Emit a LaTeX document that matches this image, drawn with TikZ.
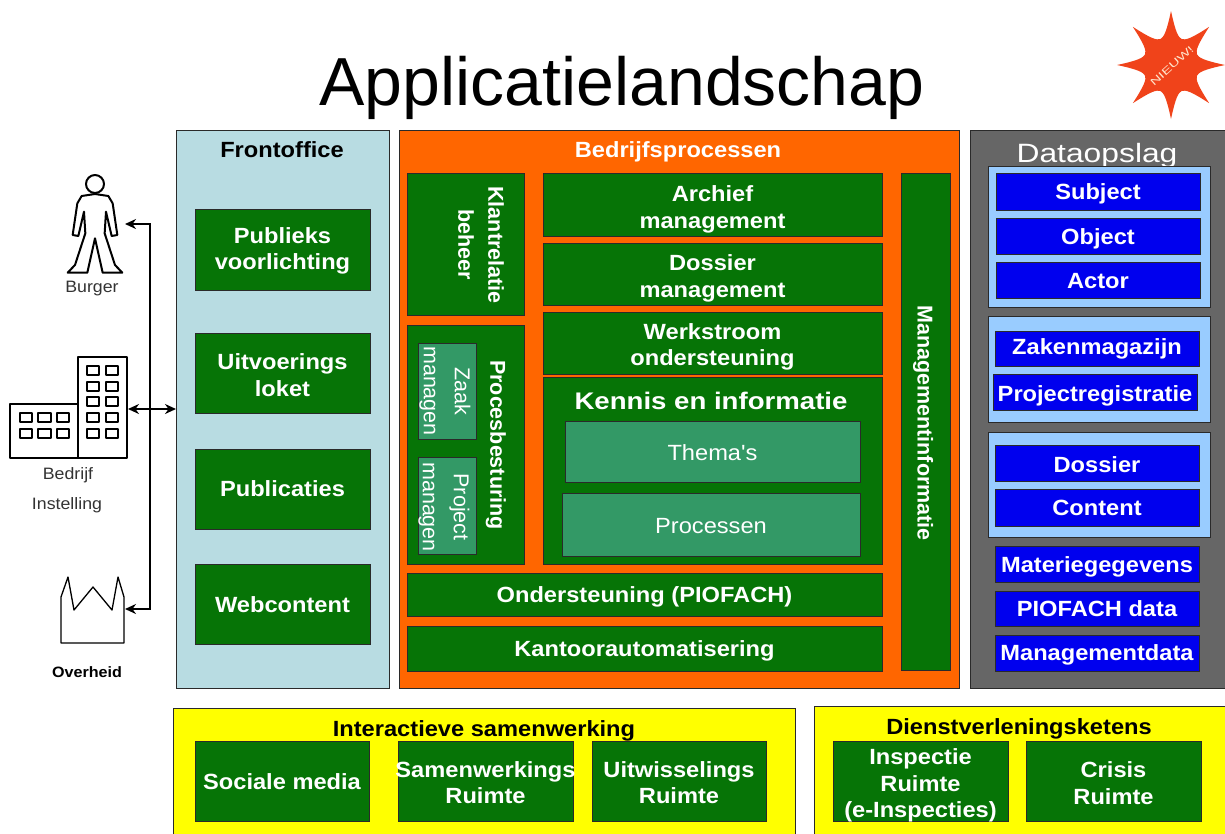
\documentclass[tikz,border=0pt]{standalone}
\usepackage{fontspec}
\setmainfont{Liberation Sans}
\usetikzlibrary{arrows.meta}
\newfontfamily\stretchedfont[FakeStretch=1.075]{Liberation Sans}
\newcommand{\lblb}{\stretchedfont\bfseries\fontsize{22}{26.5}\selectfont}
\newcommand{\lblr}{\stretchedfont\fontsize{22}{26.5}\selectfont}
\newcommand{\vertb}{\bfseries\fontsize{21.5}{30}\selectfont}
\newcommand{\vertr}{\fontsize{21.5}{31}\selectfont}
\definecolor{dgreen}{HTML}{067406}
\definecolor{lgreen}{HTML}{339966}
\definecolor{front}{HTML}{B8DCE2}
\definecolor{orangeb}{HTML}{FF6600}
\definecolor{greyb}{HTML}{666666}
\definecolor{lblue}{HTML}{99CCFF}
\definecolor{dblue}{HTML}{0000EE}
\definecolor{edge}{HTML}{2A2A2A}
\definecolor{starc}{HTML}{F0431A}
\definecolor{yellowb}{HTML}{FFFF00}
\tikzset{
  base/.style={draw=edge,line width=1pt,inner sep=0pt,outer sep=0pt,align=center},
  pane/.style={base},
  gbox/.style={base,fill=dgreen,text=white,font=\lblb},
  tbox/.style={base,fill=lgreen,text=white,font=\lblr},
  bbox/.style={base,fill=dblue,text=white,font=\lblb},
  lbox/.style={base,fill=lblue},
  ybox/.style={base,fill=yellowb,text=black,font=\lblb},
  vtext/.style={text=white,rotate=-90,align=center,inner sep=0pt},
  head/.style={font=\lblb,inner sep=0pt},
  side/.style={text=black!80,inner sep=0pt,font=\stretchedfont\fontsize{16.5}{19}\selectfont},
  icon/.style={draw=black,line width=2pt,line join=round},
  conn/.style={draw=black,line width=2.2pt,{Stealth[length=11pt,width=10pt]}-{Stealth[length=11pt,width=10pt]}}
}
% [text shift]{name}{x1}{y1}{x2}{y2}{style}{text}
\newcommand{\bx}[8][1.5]{%
  \node[#7,minimum width={(#5-#3)*1pt},minimum height={(#6-#4)*1pt}] (#2) at ({(#3+#5)/2},{(#4+#6)/2}) {};
  \node[#7,draw=none,fill=none] (#2-t) at ({(#3+#5)/2},{(#4+#6)/2+#1}) {#8};}
\begin{document}
\begin{tikzpicture}[x=1pt,y=-1pt]
\useasboundingbox (0,0) rectangle (1225,833);
% title
\node[anchor=base,inner sep=0pt,font=\fontsize{68}{80}\selectfont] (title) at (622,105) {Applicatielandschap};
% star
\fill[starc,shift={(1171,65)}] (0:54) \foreach \a in {0,45,...,315} { .. controls (\a+8:33) and (\a+14:29) .. (\a+22.5:28) .. controls (\a+31:29) and (\a+37:33) .. (\a+45:54) } -- cycle;
\node[rotate=42,text=white!80!orange,inner sep=0pt,font=\fontsize{10}{12}\selectfont] (nieuw) at (1172,66) {\scalebox{1.5}[1]{NIEUW!}};
% frontoffice
\bx{fo}{176}{130}{389}{688}{pane,fill=front}{}
\node[head] (fotitle) at (282,150) {Frontoffice};
\bx{f1}{195}{209}{370}{290}{gbox}{Publieks\\voorlichting}
\bx[2]{f2}{195}{333}{370}{413}{gbox}{Uitvoerings\\loket}
\bx[-0.5]{f3}{195}{449}{370}{529}{gbox}{Publicaties}
\bx[1]{f4}{195}{564}{370}{644}{gbox}{Webcontent}
% bedrijfsprocessen
\bx{bp}{399}{130}{959}{688}{pane,fill=orangeb}{}
\node[head,text=white] (bptitle) at (678,152) {Bedrijfsprocessen};
\bx{klant}{407}{173}{524}{315}{gbox}{}
\node[vtext,font=\vertb] (klanttxt) at (481,245) {Klantrelatie\\beheer};
\bx{proc}{407}{325}{524}{564}{gbox}{}
\node[vtext,font=\vertb] (proctxt) at (496,445) {Procesbesturing};
\bx{zaak}{418}{343}{476}{439}{tbox}{}
\node[vtext,font=\vertr] (zaaktxt) at (445,391) {Zaak\\managen};
\bx{proj}{418}{457}{476}{554}{tbox}{}
\node[vtext,font=\vertr] (projtxt) at (444,507) {Project\\managen};
\bx[5]{arch}{543}{173}{882}{236}{gbox}{Archief\\management}
\bx[4.5]{doss}{543}{243}{882}{305}{gbox}{Dossier\\management}
\bx[4]{werk}{543}{312}{882}{374}{gbox}{Werkstroom\\ondersteuning}
\bx{kenn}{543}{377}{882}{564}{gbox}{}
\node[text=white,inner sep=0pt,font=\bfseries\fontsize{24}{28}\selectfont] (kenntxt) at (711,401) {\scalebox{1.15}[1]{Kennis en informatie}};
\bx[1]{them}{565}{421}{860}{482}{tbox}{Thema's}
\bx{prcs}{562}{493}{860}{556}{tbox}{Processen}
\bx[2]{onder}{407}{573}{882}{616}{gbox}{Ondersteuning (PIOFACH)}
\bx[2]{kant}{407}{626}{882}{671}{gbox}{Kantoorautomatisering}
\bx{mgmt}{901}{173}{950}{670}{gbox}{}
\node[vtext,font=\vertb] (mgmttxt) at (923,423) {Managementinformatie};
% dataopslag
\bx{ds}{970}{130}{1226}{688}{pane,fill=greyb}{}
\node[anchor=base,text=white,inner sep=0pt,font=\fontsize{26.5}{30}\selectfont] (dstitle) at (1097,162) {\scalebox{1.2}[1]{Dataopslag}};
\bx{l1}{988}{166}{1210}{307}{lbox}{}
\bx[2]{d1}{996}{173}{1200}{210}{bbox}{Subject}
\bx[2.5]{d2}{996}{218}{1200}{254}{bbox}{Object}
\bx[1]{d3}{996}{262}{1200}{298}{bbox}{Actor}
\bx{l2}{988}{316}{1210}{422}{lbox}{}
\bx[0]{d4}{995}{331}{1199}{366}{bbox}{Zakenmagazijn}
\bx[4]{d5}{993}{374}{1197}{410}{bbox}{Projectregistratie}
\bx{l3}{988}{432}{1210}{537}{lbox}{}
\bx[2]{d6}{995}{445}{1199}{481}{bbox}{Dossier}
\bx[0]{d7}{995}{489}{1199}{526}{bbox}{Content}
\bx[3]{d8}{995}{546}{1199}{582}{bbox}{Materiegegevens}
\bx[0]{d9}{995}{591}{1199}{626}{bbox}{PIOFACH data}
\bx[2]{d10}{995}{635}{1199}{671}{bbox}{Managementdata}
% bottom
\bx{is}{173}{708}{795}{834}{ybox}{}
\node[head] (istitle) at (484,731) {Interactieve samenwerking};
\bx[1]{s1}{195}{741}{369}{821}{gbox}{Sociale media}
\bx{s2}{398}{741}{573}{821}{gbox}{Samenwerkings\\Ruimte}
\bx{s3}{592}{741}{766}{821}{gbox}{Uitwisselings\\Ruimte}
\bx{dk}{814}{706}{1226}{834}{ybox}{}
\node[head] (dktitle) at (1019,729) {Dienstverleningsketens};
\bx[4.5]{k1}{833}{741}{1008}{821}{gbox}{Inspectie\\Ruimte\\(e-Inspecties)}
\bx[2]{k2}{1026}{741}{1201}{821}{gbox}{Crisis\\Ruimte}
% person
\begin{scope}[shift={(60,170)},x=0.3333pt,y=-0.3333pt]
\draw[icon] (105,42) circle (27);
\draw[icon] (105,72) -- (145,78) -- (158,100) -- (172,195) -- (155,198) -- (138,125) -- (134,190) -- (165,285) -- (187,308) -- (128,308) -- (105,205) -- (82,308) -- (23,308) -- (45,285) -- (76,190) -- (72,125) -- (55,198) -- (38,195) -- (52,100) -- (65,78) -- cycle;
\end{scope}
\node[side] (burger) at (92,289) {Burger};
% building
\draw[icon] (10,404) rectangle (78,458);
\draw[icon] (78,357) rectangle (127,458);
\foreach \yy in {366,382,397,413,429} {
  \draw[icon] (87,\yy) rectangle ++(12,9);
  \draw[icon] (106,\yy) rectangle ++(12,9);
}
\foreach \yy in {413,429} {
  \draw[icon] (20,\yy) rectangle ++(12,9);
  \draw[icon] (38,\yy) rectangle ++(13,9);
  \draw[icon] (57,\yy) rectangle ++(12,9);
}
\node[side] (bedrijf) at (68,475) {Bedrijf};
\node[side] (instelling) at (67,505) {Instelling};
% church
\draw[icon,line width=1.3pt] (61,643) -- (61,597) -- (68,577) -- (74,610) -- (93,587) -- (112,610) -- (118,577) -- (124,597) -- (124,643) -- cycle;
\node[text=black,inner sep=0pt,font=\stretchedfont\bfseries\fontsize{15}{18}\selectfont] (overheid) at (87,672) {Overheid};
% connectors
\coordinate (burgertip) at (125,224);
\coordinate (spinetop) at (150,224);
\coordinate (spinebot) at (150,609);
\coordinate (overheidtip) at (125,609);
\coordinate (bedrijftip) at (128,409);
\draw[conn] (burgertip) -- (spinetop) -- (spinebot) -- (overheidtip);
\draw[conn] (bedrijftip) -- (bedrijftip -| fo.west);
\end{tikzpicture}
\end{document}
